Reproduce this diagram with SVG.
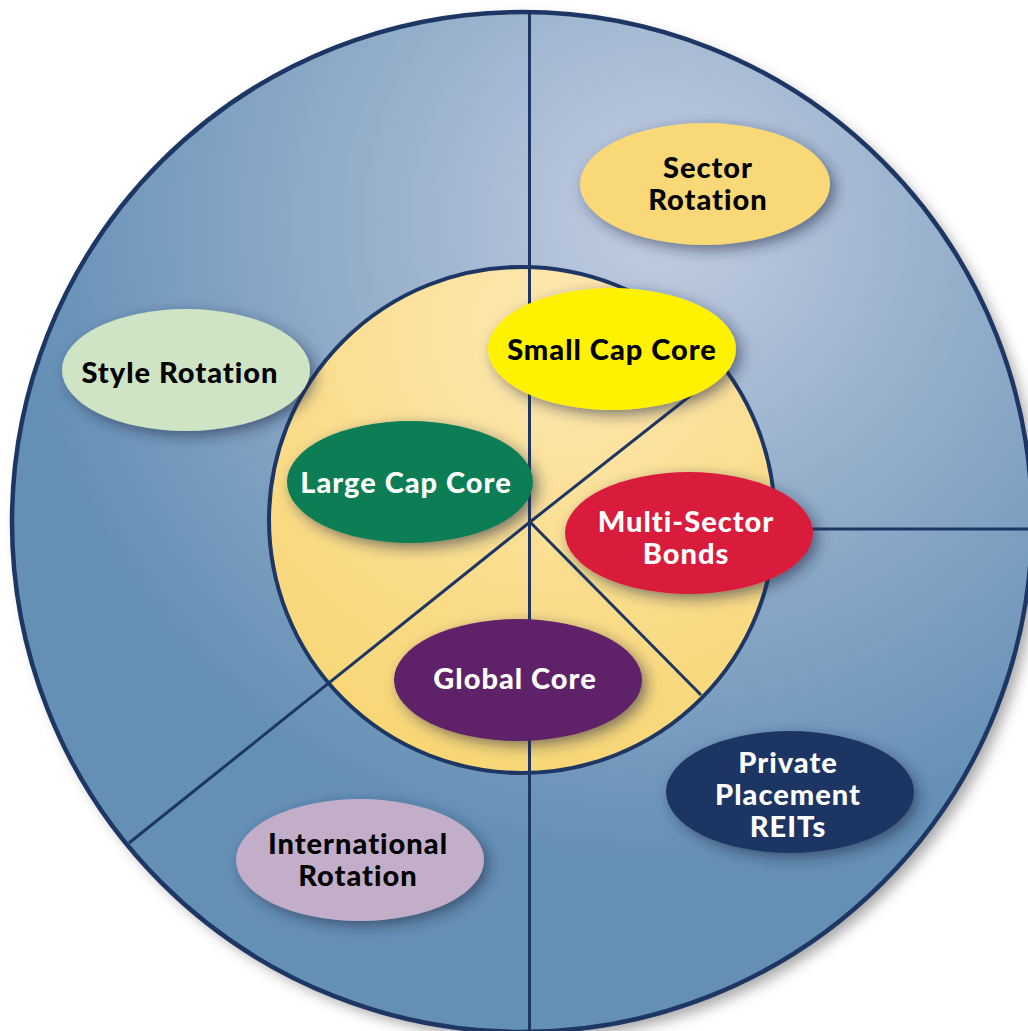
<svg xmlns="http://www.w3.org/2000/svg" width="1028" height="1031" viewBox="0 0 1028 1031">
  <style>
    .label { font-family: "Lato", "Open Sans", "DejaVu Sans", sans-serif; font-weight: 900; font-size: 29px; letter-spacing: 1px; text-anchor: middle; }
    .dark { fill: #000000; }
    .light { fill: #ffffff; }
    .spoke { stroke: #1d3664; stroke-width: 3; fill: none; }
    .rim { stroke: #1d3664; fill: none; }
    .bubble { filter: url(#bubbleShadow); }
  </style>
  <defs>
    <radialGradient id="ringGrad" cx="660" cy="220" r="640" gradientUnits="userSpaceOnUse">
      <stop offset="0" stop-color="#c3cde0"/>
      <stop offset="0.45" stop-color="#97b0cc"/>
      <stop offset="1" stop-color="#6590b6"/>
    </radialGradient>
    <radialGradient id="coreGrad" cx="560" cy="330" r="460" gradientUnits="userSpaceOnUse">
      <stop offset="0" stop-color="#fde8b2"/>
      <stop offset="0.6" stop-color="#fadc8a"/>
      <stop offset="1" stop-color="#f8d674"/>
    </radialGradient>
    <filter id="ringShadow" x="-10%" y="-10%" width="125%" height="125%">
      <feDropShadow dx="7" dy="7" stdDeviation="7" flood-color="#000000" flood-opacity="0.35"/>
    </filter>
    <filter id="bubbleShadow" x="-20%" y="-30%" width="150%" height="170%">
      <feDropShadow dx="5" dy="5" stdDeviation="7" flood-color="#1f2a44" flood-opacity="0.55"/>
    </filter>
  </defs>

  <!-- outer ring and inner core -->
  <g id="outer-ring">
    <circle cx="522" cy="522" r="510" fill="url(#ringGrad)" filter="url(#ringShadow)"/>
  </g>
  <g id="inner-core">
    <circle cx="522" cy="520" r="253" fill="url(#coreGrad)"/>
  </g>

  <!-- dividing lines -->
  <g id="connectors">
    <line class="spoke" x1="529.5" y1="14" x2="529.5" y2="1031"/>
    <line class="spoke" x1="530" y1="522" x2="728" y2="366"/>
    <line class="spoke" x1="530" y1="522" x2="701" y2="695"/>
    <line class="spoke" x1="530" y1="522" x2="129" y2="843"/>
    <line class="spoke" x1="774" y1="529" x2="1031" y2="529"/>
  </g>

  <g id="rims">
    <circle class="rim" cx="522" cy="520" r="253" stroke-width="4"/>
    <circle class="rim" cx="522" cy="522" r="510" stroke-width="4.5"/>
  </g>

  <!-- strategy bubbles -->
  <g id="sector-rotation">
    <ellipse class="bubble" cx="705" cy="184" rx="125" ry="61" fill="#f9d977"/>
    <text class="label dark" x="708" y="178">Sector</text>
    <text class="label dark" x="708" y="210">Rotation</text>
  </g>
  <g id="style-rotation">
    <ellipse class="bubble" cx="186" cy="370" rx="124" ry="61" fill="#cfe4c5"/>
    <text class="label dark" x="180" y="383">Style Rotation</text>
  </g>
  <g id="small-cap-core">
    <ellipse class="bubble" cx="612" cy="349" rx="124" ry="61" fill="#fff200"/>
    <text class="label dark" x="612" y="360">Small Cap Core</text>
  </g>
  <g id="large-cap-core">
    <ellipse class="bubble" cx="410" cy="482" rx="123" ry="61" fill="#077d55"/>
    <text class="label light" x="406" y="493">Large Cap Core</text>
  </g>
  <g id="multi-sector-bonds">
    <ellipse class="bubble" cx="689" cy="533" rx="124" ry="61" fill="#d91f3a"/>
    <text class="label light" x="686" y="532">Multi-Sector</text>
    <text class="label light" x="686" y="564">Bonds</text>
  </g>
  <g id="global-core">
    <ellipse class="bubble" cx="518" cy="680" rx="124" ry="61" fill="#5f2167"/>
    <text class="label light" x="515" y="689">Global Core</text>
  </g>
  <g id="private-placement-reits">
    <ellipse class="bubble" cx="790" cy="792" rx="124" ry="61" fill="#1d3664"/>
    <text class="label light" x="788" y="773">Private</text>
    <text class="label light" x="788" y="805">Placement</text>
    <text class="label light" x="788" y="837">REITs</text>
  </g>
  <g id="international-rotation">
    <ellipse class="bubble" cx="360" cy="860" rx="124" ry="61" fill="#c2aec8"/>
    <text class="label dark" x="358" y="854">International</text>
    <text class="label dark" x="358" y="886">Rotation</text>
  </g>
</svg>
